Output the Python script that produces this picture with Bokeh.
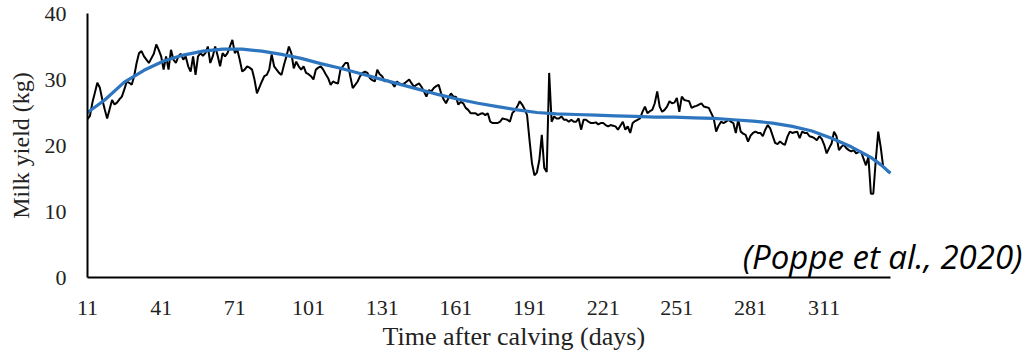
from bokeh.plotting import figure
from bokeh.models import FixedTicker, Label, Title
from bokeh.embed import file_html
from bokeh.resources import INLINE

# Daily milk yield (kg), days 11..337 after calving
days = list(range(11, 338))
milk_yield = [
    24.0, 24.5, 26.5, 28.0, 29.5, 28.8, 27.0, 25.5, 24.1, 25.5,
    26.9, 26.2, 26.5, 27.0, 27.4, 28.5, 29.7, 29.5, 29.2, 30.5,
    32.5, 34.0, 34.3, 33.5, 33.0, 32.5, 33.2, 33.9, 35.3, 34.5,
    33.5, 31.5, 33.5, 31.5, 34.5, 33.0, 32.5, 33.5, 33.9, 33.0,
    33.5, 32.0, 31.2, 33.5, 30.7, 33.5, 34.0, 33.6, 34.0, 35.0,
    32.5, 33.5, 35.0, 33.6, 32.0, 34.0, 33.5, 34.0, 35.0, 36.0,
    34.0, 34.5, 33.0, 31.2, 31.5, 32.0, 31.8, 31.5, 30.0, 27.9,
    28.8, 29.7, 30.5, 30.7, 31.5, 33.8, 32.0, 31.5, 31.0, 30.7,
    32.2, 33.5, 35.0, 34.0, 31.7, 32.7, 32.0, 31.5, 32.0, 31.0,
    30.8, 30.5, 30.0, 31.5, 31.8, 32.0, 31.5, 30.8, 30.2, 29.2,
    29.7, 29.5, 29.4, 31.5, 32.0, 32.5, 32.5, 30.5, 28.7, 29.2,
    29.7, 30.5, 31.0, 31.2, 31.0, 30.2, 29.9, 29.7, 31.5, 30.8,
    30.5, 29.7, 29.9, 29.6, 29.5, 28.9, 29.7, 29.4, 29.2, 29.4,
    29.7, 30.0, 29.4, 28.9, 29.2, 29.4, 28.9, 28.2, 27.4, 28.4,
    28.2, 28.7, 29.0, 29.2, 27.9, 27.0, 26.4, 27.2, 27.9, 27.4,
    27.4, 26.2, 26.6, 26.4, 25.7, 25.4, 24.9, 24.9, 24.9, 24.6,
    24.8, 24.9, 24.6, 24.9, 23.6, 23.4, 23.4, 23.4, 23.6, 24.1,
    24.0, 23.9, 23.6, 24.9, 25.3, 25.9, 26.7, 26.2, 25.5, 24.6,
    20.8, 17.3, 15.5, 15.9, 17.8, 21.6, 16.6, 16.0, 31.0, 23.6,
    24.4, 24.1, 24.1, 24.4, 23.9, 23.9, 23.6, 23.9, 23.6, 23.6,
    24.1, 22.4, 23.9, 23.9, 23.6, 23.4, 23.4, 23.5, 23.2, 23.4,
    23.4, 23.1, 22.9, 23.1, 23.0, 22.9, 22.4, 23.0, 23.6, 22.4,
    22.9, 21.9, 23.4, 23.7, 23.9, 24.1, 25.1, 25.9, 24.9, 25.2,
    25.4, 26.4, 28.2, 25.9, 25.1, 25.4, 25.9, 26.7, 26.4, 26.5,
    27.2, 25.1, 27.4, 26.9, 26.8, 26.7, 25.7, 25.9, 26.0, 26.2,
    26.4, 25.9, 25.8, 25.7, 24.9, 24.1, 22.1, 23.0, 23.6, 23.4,
    23.6, 23.9, 23.6, 23.4, 21.9, 23.9, 22.1, 21.8, 21.6, 20.6,
    21.5, 21.9, 22.1, 21.9, 21.9, 21.4, 22.4, 23.1, 22.6, 21.5,
    20.4, 20.2, 20.6, 20.3, 20.1, 21.3, 22.1, 21.9, 22.0, 22.1,
    21.1, 22.1, 21.9, 21.9, 21.4, 21.3, 21.1, 20.8, 21.4, 21.0,
    20.1, 18.8, 19.6, 20.3, 22.1, 21.4, 19.3, 19.8, 20.1, 19.6,
    19.3, 19.1, 19.3, 18.8, 19.0, 19.1, 18.0, 17.0, 18.3, 12.7,
    12.7, 17.8, 22.1, 19.8, 16.8, 16.5, 16.0,
]

# Fitted lactation trend (blue)
trend_days = [11, 18, 26, 34, 42, 50, 58, 66, 74, 82, 90, 98, 106, 114, 122,
              130, 138, 146, 154, 162, 170, 178, 186, 194, 202, 210, 218, 226,
              234, 242, 250, 258, 266, 274, 282, 290, 298, 306, 314, 322, 326,
              330, 334, 338]
trend_yield = [25.0, 26.9, 29.6, 31.4, 32.8, 33.7, 34.3, 34.6, 34.6, 34.3,
               33.8, 33.2, 32.4, 31.7, 30.9, 30.1, 29.3, 28.5, 27.7, 27.0,
               26.4, 25.9, 25.4, 25.0, 24.8, 24.7, 24.6, 24.5, 24.4, 24.3,
               24.3, 24.2, 24.1, 23.9, 23.7, 23.4, 22.9, 22.2, 21.1, 19.8,
               19.0, 18.2, 17.1, 15.8]

x_ticks = [11, 41, 71, 101, 131, 161, 191, 221, 251, 281, 311]
y_ticks = [0, 10, 20, 30, 40]
x_axis_span = (11, 338)

SERIF = "Liberation Serif"
TEXT = "#222222"

p = figure(width=1029, height=354, x_range=(11, 394.6), y_range=(0, 40),
           output_backend="svg", toolbar_location=None,
           min_border_left=87, min_border_right=0,
           min_border_top=13, min_border_bottom=77)
p.outline_line_color = None
p.xgrid.visible = False
p.ygrid.visible = False
p.background_fill_color = "white"
p.border_fill_color = "white"

p.line(days, milk_yield, line_color="black", line_width=2)
p.line(trend_days, trend_yield, line_color="#2E75C0", line_width=3.2)

for ax in (p.xaxis[0], p.yaxis[0]):
    ax.axis_line_color = "black"
    ax.axis_line_width = 2
    ax.major_tick_line_color = None
    ax.minor_tick_line_color = None
    ax.major_label_text_font = SERIF
    ax.major_label_text_font_size = "22px"
    ax.major_label_text_color = TEXT

p.xaxis.bounds = x_axis_span
p.xaxis.ticker = FixedTicker(ticks=x_ticks)
p.yaxis.ticker = FixedTicker(ticks=y_ticks)
p.xaxis.major_label_standoff = 17
p.yaxis.major_label_standoff = 15

p.yaxis.axis_label = "Milk yield (kg)"
p.yaxis.axis_label_text_font = SERIF
p.yaxis.axis_label_text_font_size = "24px"
p.yaxis.axis_label_text_font_style = "normal"
p.yaxis.axis_label_text_color = TEXT
p.yaxis.axis_label_standoff = 8

p.add_layout(Title(text="Time after calving (days)", align="left", offset=295,
                   text_font=SERIF, text_font_size="26px",
                   text_font_style="normal", text_color=TEXT, standoff=4),
             "below")

p.add_layout(Label(x=935, y=21, x_units="screen", y_units="screen",
                   text="(Poppe et al., 2020)", text_font="Open Sans",
                   text_font_style="italic", text_font_size="33px",
                   text_color="black", text_align="right",
                   text_baseline="middle"))

open("out.html", "w").write(file_html(p, INLINE))
